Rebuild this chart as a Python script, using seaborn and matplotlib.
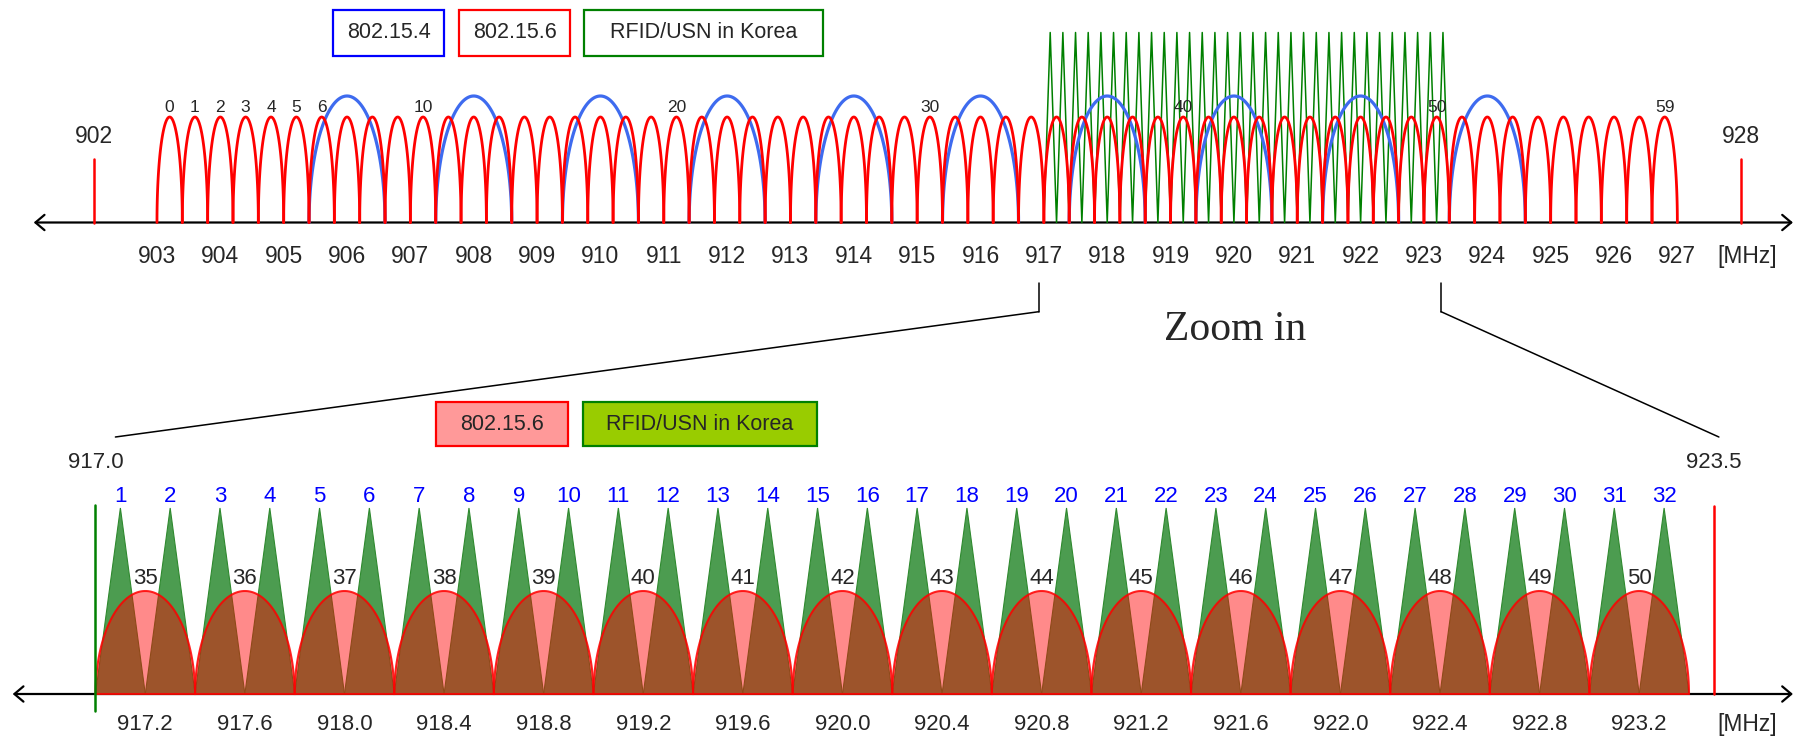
import numpy as np
import pandas as pd
import seaborn as sns
import matplotlib.pyplot as plt
from matplotlib.patches import Rectangle, ConnectionPatch

sns.set_theme(style="white")
plt.rcParams["font.family"] = ["Liberation Sans", "DejaVu Sans"]

# 802.15.6 channel centres [MHz], channels 0..59
RED_CENTERS = [903.2, 903.6, 904.0, 904.4, 904.8, 905.2, 905.6, 906.0, 906.4, 906.8,
               907.2, 907.6, 908.0, 908.4, 908.8, 909.2, 909.6, 910.0, 910.4, 910.8,
               911.2, 911.6, 912.0, 912.4, 912.8, 913.2, 913.6, 914.0, 914.4, 914.8,
               915.2, 915.6, 916.0, 916.4, 916.8, 917.2, 917.6, 918.0, 918.4, 918.8,
               919.2, 919.6, 920.0, 920.4, 920.8, 921.2, 921.6, 922.0, 922.4, 922.8,
               923.2, 923.6, 924.0, 924.4, 924.8, 925.2, 925.6, 926.0, 926.4, 926.8]
RED_LABELLED = [0, 1, 2, 3, 4, 5, 6, 10, 20, 30, 40, 50, 59]
RED_BW = 0.4

# 802.15.4 channel centres [MHz]
BLUE_CENTERS = [906.0, 908.0, 910.0, 912.0, 914.0, 916.0, 918.0, 920.0, 922.0, 924.0]
BLUE_BW = 1.2

# RFID/USN in Korea, channels 1..32
GREEN_PEAKS = [917.1, 917.3, 917.5, 917.7, 917.9, 918.1, 918.3, 918.5, 918.7, 918.9,
               919.1, 919.3, 919.5, 919.7, 919.9, 920.1, 920.3, 920.5, 920.7, 920.9,
               921.1, 921.3, 921.5, 921.7, 921.9, 922.1, 922.3, 922.5, 922.7, 922.9,
               923.1, 923.3]
GREEN_BW = 0.2

ZOOM_RED = [35, 36, 37, 38, 39, 40, 41, 42, 43, 44, 45, 46, 47, 48, 49, 50]
TOP_TICKS = [903, 904, 905, 906, 907, 908, 909, 910, 911, 912, 913, 914, 915,
             916, 917, 918, 919, 920, 921, 922, 923, 924, 925, 926, 927]
BOTTOM_TICKS = [917.2, 917.6, 918.0, 918.4, 918.8, 919.2, 919.6, 920.0,
                920.4, 920.8, 921.2, 921.6, 922.0, 922.4, 922.8, 923.2]
BAND_EDGES = [902, 928]
ZOOM_EDGES = [917.0, 923.5]
ZOOM_POINTERS = [916.92, 923.27]   # where the pointer lines leave the upper axis


def arch(c, bw, h, n=80):
    # half-ellipse spectrum lobe
    t = np.linspace(0, np.pi, n)
    return c - bw / 2 * np.cos(t), h * np.sin(t)


def zigzag(peaks, bw, h):
    xs, ys = [peaks[0] - bw / 2], [0]
    for p in peaks:
        xs += [p, p + bw / 2]
        ys += [h, 0]
    return xs, ys


fig = plt.figure(figsize=(18.14, 7.37), dpi=100)
ax_top = fig.add_axes([0, 0, 1, 1])
ax_bot = fig.add_axes([0, 0, 1, 1])

arrow = dict(arrowstyle="<->, head_length=0.65, head_width=0.55", lw=1.6,
             color="black", shrinkA=0, shrinkB=0, mutation_scale=10)

# ---------------- upper panel ----------------
rows = []
for i, c in enumerate(RED_CENTERS):
    xs, ys = arch(c, RED_BW, 105.5)
    rows += [(i, x, y) for x, y in zip(xs, ys)]
df_red = pd.DataFrame(rows, columns=["unit", "x", "y"])

rows = []
for i, c in enumerate(BLUE_CENTERS):
    xs, ys = arch(c, BLUE_BW, 126.5)
    rows += [(i, x, y) for x, y in zip(xs, ys)]
df_blue = pd.DataFrame(rows, columns=["unit", "x", "y"])

gx, gy = zigzag(GREEN_PEAKS, GREEN_BW, 190)
df_green = pd.DataFrame({"x": gx, "y": gy})

ax_top.annotate("", xy=(0.9884, 0), xycoords=("axes fraction", "data"),
                xytext=(0.0186, 0), textcoords=("axes fraction", "data"),
                arrowprops=arrow, zorder=1)
sns.lineplot(data=df_green, x="x", y="y", sort=False, color="#008000", lw=1.1,
             ax=ax_top, zorder=2)
sns.lineplot(data=df_blue, x="x", y="y", units="unit", estimator=None, sort=False,
             color="#3E6BEF", lw=2.3, ax=ax_top, zorder=3)
sns.lineplot(data=df_red, x="x", y="y", units="unit", estimator=None, sort=False,
             color="#FF0000", lw=2.0, ax=ax_top, zorder=4)

for f in BAND_EDGES:
    ax_top.plot([f, f], [0, 64], color="#FF0000", lw=1.8)
    ax_top.text(f, 86, str(f), ha="center", va="center", fontsize=16.5)

for ch in RED_LABELLED:
    ax_top.text(RED_CENTERS[ch], 115.5, str(ch), ha="center", va="center", fontsize=12.5)

for t in TOP_TICKS:
    ax_top.text(t, -34.2, str(t), ha="center", va="center", fontsize=16.5)
ax_top.text(0.963, 1 - 256.7 / 737, "[MHz]", transform=ax_top.transAxes,
            ha="center", va="center", fontsize=16.5)

# ---------------- lower panel ----------------
ax_bot.annotate("", xy=(0.9884, 0), xycoords=("axes fraction", "data"),
                xytext=(0.007, 0), textcoords=("axes fraction", "data"),
                arrowprops=arrow, zorder=1)

for k, p in enumerate(GREEN_PEAKS):
    ax_bot.fill([p - GREEN_BW / 2, p, p + GREEN_BW / 2], [0, 186, 0],
                facecolor="#4C9C50", edgecolor="#2F8A2F", lw=0.8, zorder=2)
    ax_bot.text(p, 197.3, str(k + 1), color="#0000FF", ha="center", va="center",
                fontsize=16)

for ch in ZOOM_RED:
    xs, ys = arch(RED_CENTERS[ch], RED_BW, 103)
    ax_bot.fill(xs, ys, facecolor=(1, 0, 0, 0.46), edgecolor=(1, 0, 0, 0.85),
                lw=1.5, zorder=3)
    ax_bot.text(RED_CENTERS[ch], 116, str(ch), ha="center", va="center", fontsize=16,
                zorder=5)

ax_bot.plot([ZOOM_EDGES[0]] * 2, [-17, 189], color="#008000", lw=1.8, zorder=4)
ax_bot.plot([ZOOM_EDGES[1]] * 2, [0, 188], color="#FF0000", lw=1.8, zorder=4)
for f in ZOOM_EDGES:
    ax_bot.text(f, 231, f"{f:.1f}", ha="center", va="center", fontsize=16)

for t in BOTTOM_TICKS:
    ax_bot.text(t, -30, f"{t:.1f}", ha="center", va="center", fontsize=16)
ax_bot.text(0.963, 1 - 724 / 737, "[MHz]", transform=ax_bot.transAxes,
            ha="center", va="center", fontsize=16.5)

ax_top.set_xlim(900.522, 929.157)
ax_top.set_ylim(-514.5, 222.5)
ax_bot.set_xlim(916.6165, 923.902)
ax_bot.set_ylim(-43, 694)
for ax in (ax_top, ax_bot):
    ax.set_axis_off()
    ax.patch.set_alpha(0)

# pointer lines from the upper axis down to the zoomed panel
for xa, xb in zip(ZOOM_POINTERS, [917.08, 923.52]):
    ax_top.plot([xa, xa], [-60.2, -89.2], color="black", lw=1.1)
    fig.add_artist(ConnectionPatch(xyA=(xa, -89.2), coordsA=ax_top.transData,
                                   xyB=(xb, 257), coordsB=ax_bot.transData,
                                   color="black", lw=1.1))

fig.text(1235 / 1814, 1 - 330 / 737, "Zoom in", family="Liberation Serif",
         fontsize=30, ha="center", va="center")


# legend boxes (figure pixels)
def box(x0, y0, x1, y1, label, edge, face):
    fig.add_artist(Rectangle((x0 / 1814, 1 - y1 / 737), (x1 - x0) / 1814,
                             (y1 - y0) / 737, transform=fig.transFigure,
                             facecolor=face, edgecolor=edge, lw=1.6))
    fig.text((x0 + x1) / 2 / 1814, 1 - (y0 + y1) / 2 / 737, label,
             ha="center", va="center", fontsize=15.5)


box(333, 10, 444, 55.7, "802.15.4", "#0000FF", "white")
box(459, 10, 570, 55.7, "802.15.6", "#FF0000", "white")
box(584, 10, 823, 55.7, "RFID/USN in Korea", "#008000", "white")
box(436, 402, 568, 446, "802.15.6", "#FF0000", "#FF9999")
box(583, 402, 817, 446, "RFID/USN in Korea", "#008000", "#99CC00")

fig.savefig("out.png", dpi=100)
